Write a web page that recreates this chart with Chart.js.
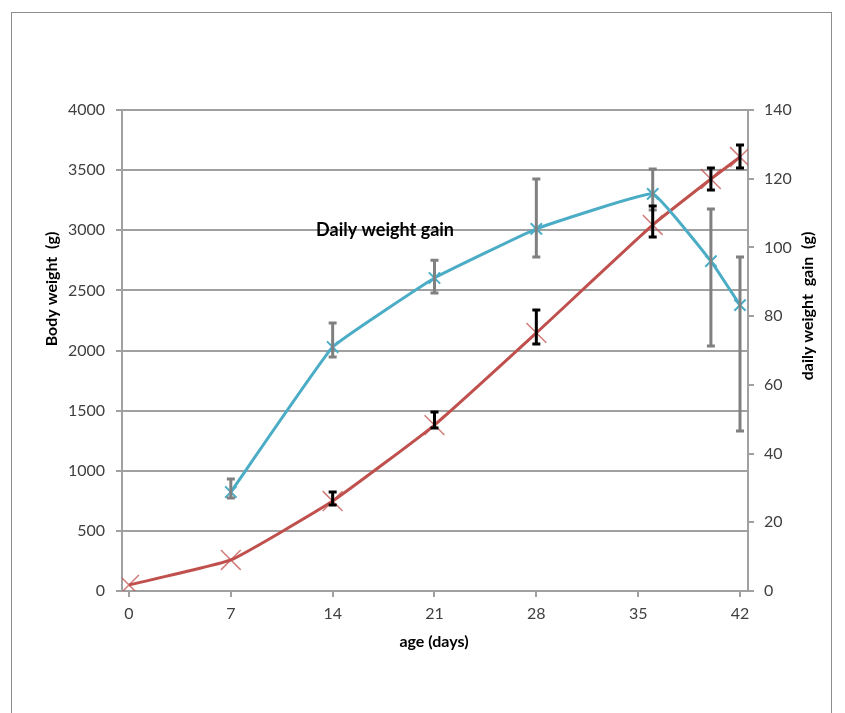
<!DOCTYPE html>
<html>
<head>
<meta charset="utf-8">
<script src="https://cdn.jsdelivr.net/npm/chart.js@4.4.1/dist/chart.umd.min.js"></script>
<style>
  html, body { margin: 0; padding: 0; background: #fff; overflow: hidden; }
  #wrap { position: relative; width: 845px; height: 713px; }
  #frame { position: absolute; left: 11px; top: 12px; width: 821px; height: 760px;
           border: 1px solid #8c8c8c; box-sizing: border-box; pointer-events: none; }
  canvas { position: absolute; left: 0; top: 0; }
</style>
</head>
<body>
<div id="wrap">
  <canvas id="chart" width="845" height="713"></canvas>
  <div id="frame"></div>
</div>
<script>
// Body weight (g) by age in days, with error bar bounds (no bar where high equals low)
const days = [0, 7, 14, 21, 28, 36, 40, 42];
const bodyWeight = [50, 258, 748, 1380, 2146, 3044, 3426, 3609];
const bodyWeightHigh = [50, 258, 823, 1489, 2337, 3202, 3518, 3709];
const bodyWeightLow = [50, 258, 715, 1356, 2054, 2944, 3335, 3518];

// Daily weight gain (g/day) by age in days, with error bar bounds
const gainDays = [7, 14, 21, 28, 36, 40, 42];
const dailyGain = [28.8, 71.0, 91.1, 105.4, 115.6, 96.0, 83.2];
const gainHigh = [32.6, 78.0, 96.3, 119.9, 122.8, 111.2, 97.2];
const gainLow = [27.1, 68.1, 86.7, 97.2, 110.9, 71.3, 46.6];

// Axis ticks
const dayTicks = [0, 7, 14, 21, 28, 35, 42];
const weightTicks = [0, 500, 1000, 1500, 2000, 2500, 3000, 3500, 4000];
const gainTicks = [0, 20, 40, 60, 80, 100, 120, 140];

const FONT = 'Lato, "Open Sans", sans-serif';
const GRID = '#a0a0a0';
const TICK_COLOR = '#404040';

const toPoints = (xs, ys) => xs.map((x, i) => ({ x: x, y: ys[i] }));

const overlay = {
  id: 'overlay',
  afterDatasetsDraw(chart) {
    const ctx = chart.ctx;
    const xs = chart.scales.x;
    const drawBars = (xv, hi, lo, scale, color, width) => {
      ctx.save();
      ctx.strokeStyle = color;
      ctx.lineWidth = width;
      ctx.lineCap = 'butt';
      xv.forEach((d, i) => {
        if (hi[i] === lo[i]) return;
        const px = xs.getPixelForValue(d);
        const top = scale.getPixelForValue(hi[i]);
        const bot = scale.getPixelForValue(lo[i]);
        ctx.beginPath();
        ctx.moveTo(px, top); ctx.lineTo(px, bot);
        ctx.moveTo(px - 4, top); ctx.lineTo(px + 4, top);
        ctx.moveTo(px - 4, bot); ctx.lineTo(px + 4, bot);
        ctx.stroke();
      });
      ctx.restore();
    };
    drawBars(gainDays, gainHigh, gainLow, chart.scales.y2, '#808080', 3);
    drawBars(days, bodyWeightHigh, bodyWeightLow, chart.scales.y, '#000000', 3);
  },
  afterDraw(chart) {
    const ctx = chart.ctx;
    const xs = chart.scales.x, ys = chart.scales.y;
    ctx.save();
    ctx.fillStyle = '#000';
    ctx.textAlign = 'center';
    ctx.textBaseline = 'middle';

    // series note next to the gain curve
    ctx.font = 'bold 18px ' + FONT;
    ctx.fillText('Daily weight gain', xs.getPixelForValue(17.6), ys.getPixelForValue(3000));

    // axis titles
    ctx.font = 'bold 16px ' + FONT;
    ctx.fillText('age (days)', 434, 642);

    ctx.save();
    ctx.translate(52, 289);
    ctx.rotate(-Math.PI / 2);
    ctx.fillText('Body weight  (g)', 0, 0);
    ctx.restore();

    ctx.save();
    ctx.translate(808, 306);
    ctx.rotate(-Math.PI / 2);
    ctx.fillText('daily weight  gain  (g)', 0, 0);
    ctx.restore();

    ctx.restore();
  }
};

const plain = (v) => String(v);

new Chart(document.getElementById('chart'), {
  type: 'scatter',
  data: {
    datasets: [
      {
        label: 'Daily weight gain',
        data: toPoints(gainDays, dailyGain),
        yAxisID: 'y2',
        showLine: true,
        borderColor: '#4bacc6',
        borderWidth: 3,
        tension: 0.08,
        pointStyle: 'crossRot',
        pointRadius: 8,
        pointBorderWidth: 2,
        pointBorderColor: '#4bacc6',
        pointBackgroundColor: '#4bacc6'
      },
      {
        label: 'Body weight',
        data: toPoints(days, bodyWeight),
        yAxisID: 'y',
        showLine: true,
        borderColor: '#c0504d',
        borderWidth: 3,
        tension: 0.12,
        pointStyle: 'crossRot',
        pointRadius: 14,
        pointBorderWidth: 1.5,
        pointBorderColor: 'rgba(192,80,77,0.75)',
        pointBackgroundColor: 'rgba(192,80,77,0.75)'
      }
    ]
  },
  options: {
    responsive: false,
    animation: false,
    events: [],
    layout: { padding: { top: 110, left: 0, right: 0, bottom: 0 } },
    plugins: { legend: { display: false }, tooltip: { enabled: false } },
    scales: {
      x: {
        type: 'linear',
        min: -0.48,
        max: 42.55,
        afterBuildTicks: (s) => { s.ticks = dayTicks.map(v => ({ value: v })); },
        afterFit: (s) => { s.height = 122; },
        grid: { drawOnChartArea: false, drawTicks: true, tickLength: 6, color: GRID, lineWidth: 2 },
        border: { display: true, color: GRID, width: 2 },
        ticks: { color: TICK_COLOR, font: { family: FONT, size: 16 }, padding: 7, maxRotation: 0, callback: plain }
      },
      y: {
        position: 'left',
        min: 0,
        max: 4000,
        afterBuildTicks: (s) => { s.ticks = weightTicks.map(v => ({ value: v })); },
        afterFit: (s) => { s.width = 122; },
        grid: { drawOnChartArea: true, drawTicks: true, tickLength: 6, color: GRID, lineWidth: 2 },
        border: { display: true, color: GRID, width: 2 },
        ticks: { color: TICK_COLOR, font: { family: FONT, size: 16 }, padding: 11, callback: plain }
      },
      y2: {
        position: 'right',
        min: 0,
        max: 140,
        afterBuildTicks: (s) => { s.ticks = gainTicks.map(v => ({ value: v })); },
        afterFit: (s) => { s.width = 97; },
        grid: { drawOnChartArea: false, drawTicks: true, tickLength: 6, color: GRID, lineWidth: 2 },
        border: { display: true, color: GRID, width: 2 },
        ticks: { color: TICK_COLOR, font: { family: FONT, size: 16 }, padding: 10, callback: plain }
      }
    }
  },
  plugins: [overlay]
});
</script>
</body>
</html>
